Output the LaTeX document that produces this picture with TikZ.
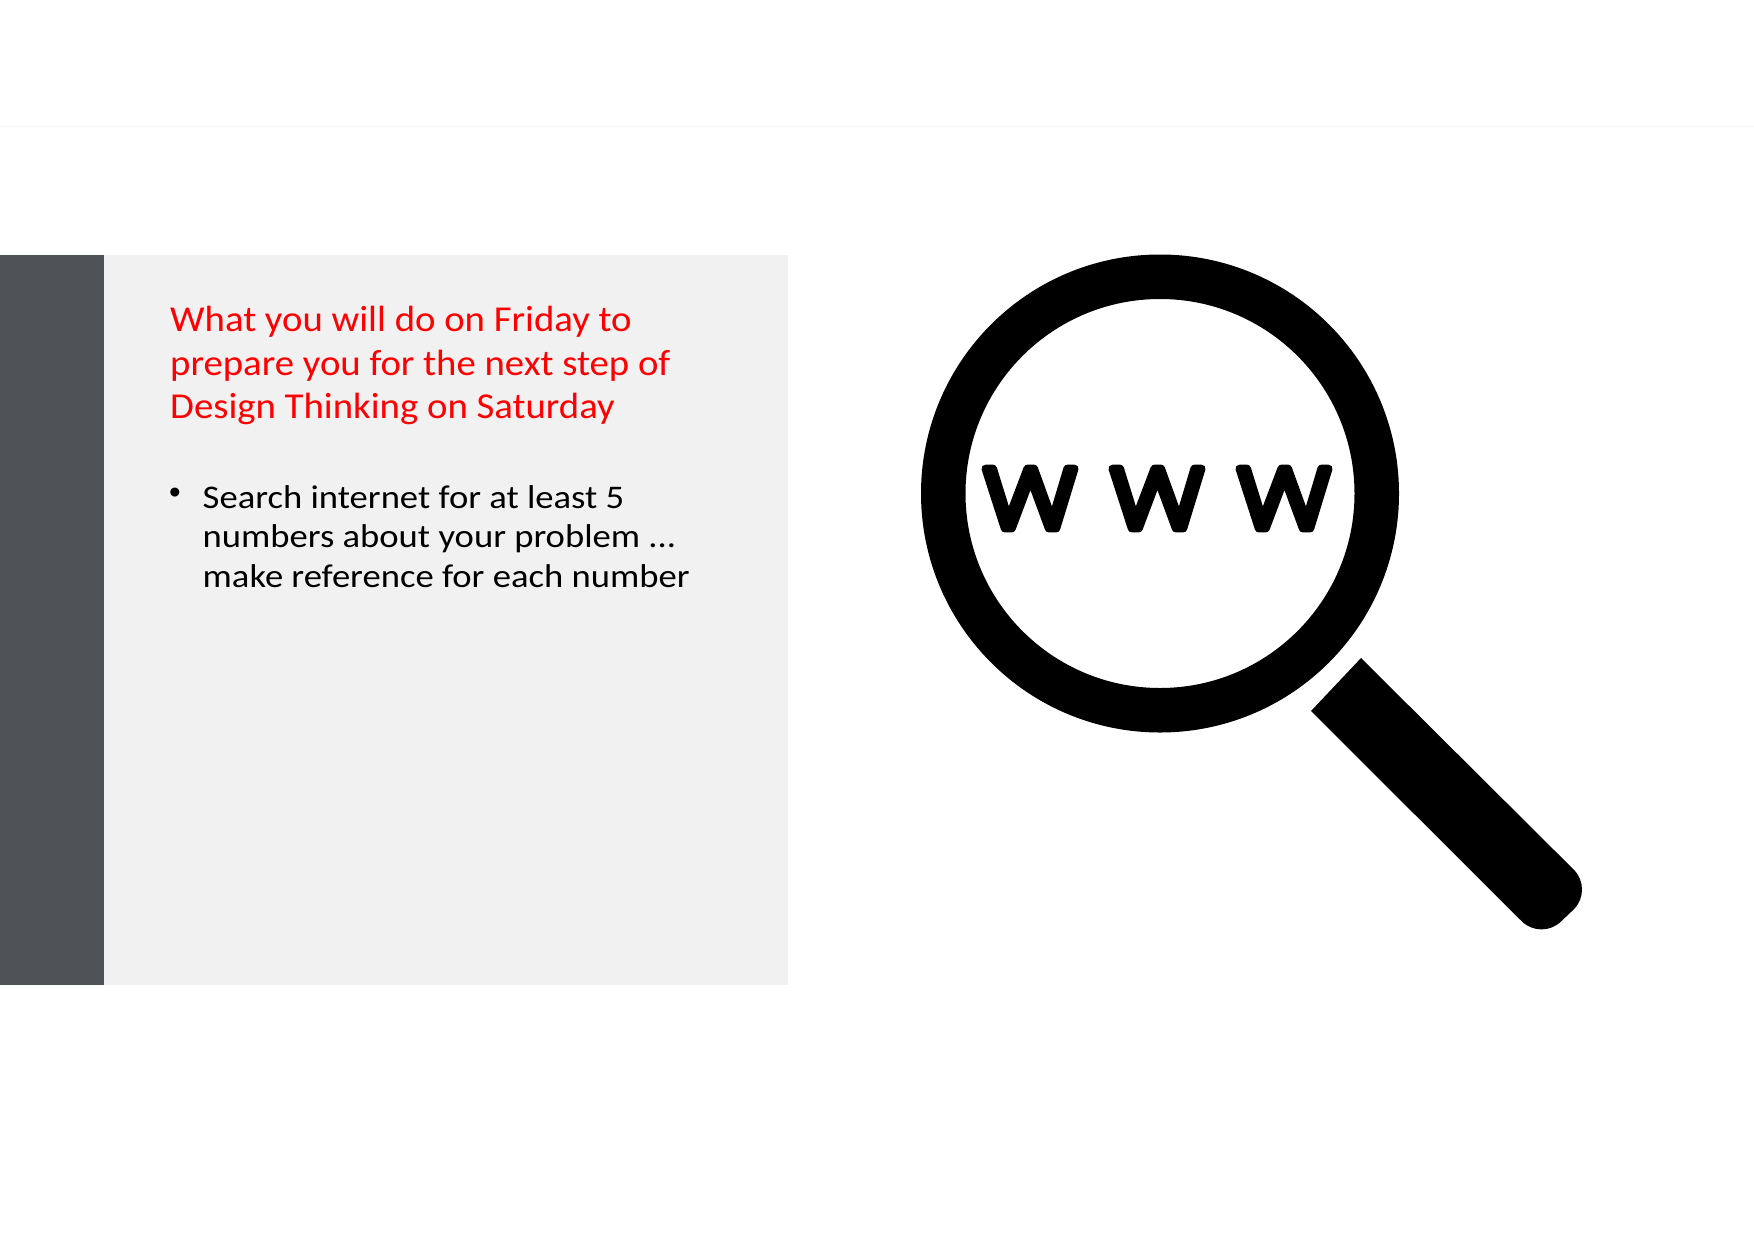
\documentclass[tikz,border=0pt]{standalone}
\usepackage{fontspec}
\setmainfont{Carlito}
\newfontfamily\titlefont[FakeStretch=1.062]{Carlito}
\newfontfamily\bodyfont[FakeStretch=1.11]{Carlito}
\newfontfamily\bulletfont{Liberation Sans}
\newfontfamily\wwwfont[FakeBold=7]{Open Sans Light}
\definecolor{barcol}{HTML}{4D5356}
\definecolor{panelcol}{HTML}{F1F1F1}
\definecolor{rulecol}{HTML}{F8F8F8}
\tikzset{
  titletext/.style={anchor=north west,inner sep=0pt,align=left,text=red,font=\titlefont\fontsize{36.5}{43.5}\selectfont},
  bodytext/.style={anchor=north west,inner sep=0pt,align=left,text=black,font=\bodyfont\fontsize{33}{39.5}\selectfont},
  bulletmark/.style={anchor=center,inner sep=0pt,text=black,font=\bulletfont\fontsize{33}{39.5}\selectfont},
  wglyph/.style={inner sep=0pt,anchor=center,line join=round},
}
\newcommand{\wmark}{\pgfsetroundjoin\resizebox{92pt}{60pt}{\wwwfont w}}
\begin{document}
\begin{tikzpicture}[x=1pt,y=-1pt]
\useasboundingbox (0,0) rectangle (1754,1240);
\fill[white] (0,0) rectangle (1754,1240);
\draw[rulecol,line width=1pt] (0,126.5) -- (1754,126.5);
\fill[panelcol] (104,255) rectangle (788,984.5);
\fill[barcol] (0,255) rectangle (104,984.5);
\node[titletext] (title) at (170,306) {What you will do on Friday to\\prepare you for the next step of\\Design Thinking on Saturday};
\node[bulletmark] (bullet) at (175,496) {•};
\node[bodytext] (body) at (202.5,485) {Search internet for at least 5\\numbers about your problem ...\\make reference for each number};
% magnifier
\coordinate (lens) at (1160,493.5);
\fill[black,even odd rule] (lens) circle (239) (lens) circle (194.5);
\fill[black] (1361,658) -- (1311,711) -- (1521.7,921.2) arc (135:45:28) -- (1573.8,909.3) arc (45:-45:28) -- cycle;
\node[wglyph] (w1) at (1030,498.5) {\wmark};
\node[wglyph] (w2) at (1157,498.5) {\wmark};
\node[wglyph] (w3) at (1284,498.5) {\wmark};
\end{tikzpicture}
\end{document}
